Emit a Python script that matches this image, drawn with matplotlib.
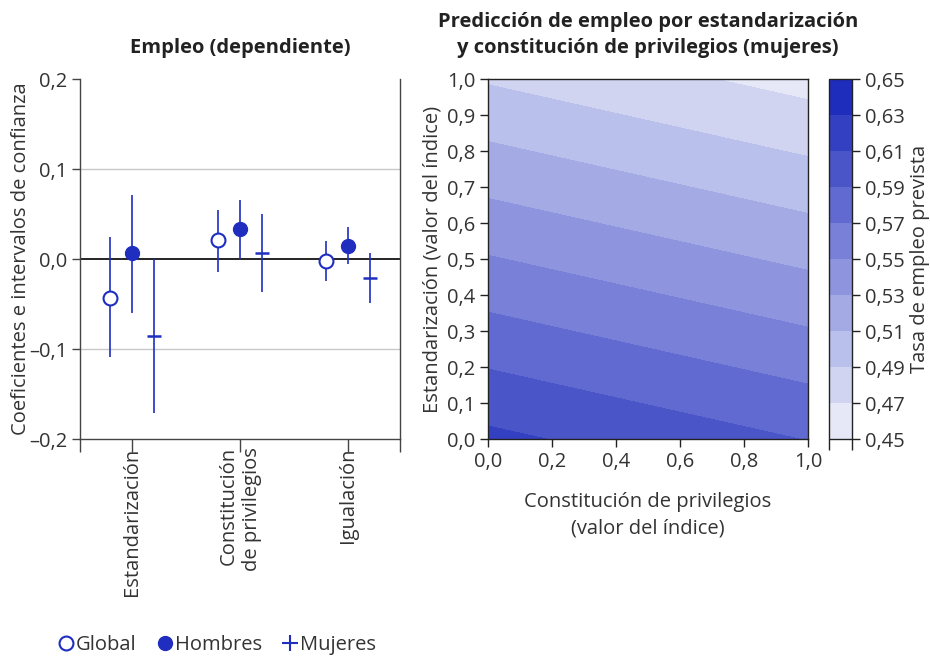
import matplotlib

matplotlib.use("Agg")
import matplotlib.pyplot as plt
import numpy as np
from matplotlib import font_manager
from matplotlib.colors import BoundaryNorm, ListedColormap
from matplotlib.lines import Line2D
from matplotlib.textpath import TextPath
from matplotlib.ticker import FuncFormatter

plt.rcParams["font.family"] = ["Open Sans", "DejaVu Sans"]
plt.rcParams["font.size"] = 14.5
plt.rcParams["text.color"] = "#333333"
plt.rcParams["axes.labelcolor"] = "#333333"
plt.rcParams["xtick.color"] = "#333333"
plt.rcParams["ytick.color"] = "#333333"

# Coefficient estimates with confidence bounds, one entry per reform type
categories = ["Estandarización", "Constitución\nde privilegios", "Igualación"]

global_est = [-0.043, 0.021, -0.002]
global_lo = [-0.109, -0.014, -0.024]
global_hi = [0.024, 0.054, 0.020]

men_est = [0.007, 0.033, 0.015]
men_lo = [-0.060, 0.000, -0.006]
men_hi = [0.071, 0.066, 0.036]

women_est = [-0.086, 0.007, -0.021]
women_lo = [-0.171, -0.037, -0.049]
women_hi = [0.000, 0.050, 0.007]

# Predicted employment rate (women) at the corners of the index grid
privilege_idx = [0.0, 1.0]
standard_idx = [0.0, 1.0]
predicted_rate = [
    [0.6146, 0.5893],  # standardisation = 0
    [0.4880, 0.4627],  # standardisation = 1
]
rate_levels = [0.45, 0.47, 0.49, 0.51, 0.53, 0.55, 0.57, 0.59, 0.61, 0.63, 0.65]

BLUE = "#1f2ebf"
band_colors = [
    "#e6e8f7", "#d0d4f0", "#bac0ec", "#a4aae4", "#8e95de",
    "#7880d8", "#616ad1", "#4a55c8", "#3340c2", "#1f2dbd",
]


def bold_font(size):
    # condensed cuts share the family name: keep the widest plain bold face
    best, best_width = None, 0.0
    for entry in font_manager.fontManager.ttflist:
        if entry.name not in ("Open Sans", "Noto Sans") or entry.style != "normal":
            continue
        if entry.weight not in (700, "bold"):
            continue
        try:
            prop = font_manager.FontProperties(fname=entry.fname)
            width = TextPath((0, 0), "Empleo", prop=prop, size=10).get_extents().width
        except Exception:
            continue
        if width > best_width:
            best, best_width = entry.fname, width
    if best is None:
        return font_manager.FontProperties(family="Open Sans", weight="bold",
                                           size=size)
    return font_manager.FontProperties(fname=best, size=size)


title_font = bold_font(14.5)


def comma(value, _pos=None, digits=1):
    text = f"{value:.{digits}f}".replace(".", ",")
    return text.replace("-", "\u2013")


fig = plt.figure(figsize=(9.3, 6.58), dpi=100)

# --- left panel: coefficients -------------------------------------------
ax = fig.add_axes([80 / 930, 1 - 439 / 658, 320 / 930, 360 / 658])
pos = np.arange(len(categories))
shift = 0.2
xmin, xmax = -0.48, 2.48

ax.axhline(0.1, color="#c8c8c8", lw=1.0, zorder=0)
ax.axhline(-0.1, color="#c8c8c8", lw=1.0, zorder=0)
ax.axhline(0.0, color="black", lw=1.2, zorder=1)


def draw_series(x, est, lo, hi, **style):
    est = np.asarray(est)
    err = [est - np.asarray(lo), np.asarray(hi) - est]
    ax.errorbar(x, est, yerr=err, fmt="none", ecolor=BLUE, elinewidth=1.2,
                capsize=0, zorder=2)
    ax.plot(x, est, linestyle="none", zorder=3, **style)


draw_series(pos - shift, global_est, global_lo, global_hi, marker="o",
            markersize=10, markerfacecolor="white", markeredgecolor=BLUE,
            markeredgewidth=1.5)
draw_series(pos, men_est, men_lo, men_hi, marker="o", markersize=10,
            markerfacecolor=BLUE, markeredgecolor=BLUE)
draw_series(pos + shift, women_est, women_lo, women_hi, marker="_",
            markersize=9.5, markeredgewidth=1.8, color=BLUE)

ax.set_xlim(xmin, xmax)
ax.set_ylim(-0.2, 0.2)
ax.set_yticks([-0.2, -0.1, 0.0, 0.1, 0.2])
ax.yaxis.set_major_formatter(FuncFormatter(comma))
ax.set_xticks([xmin, *pos, xmax])
ax.set_xticklabels(["", *categories, ""], rotation=90, va="top", ha="center",
                   multialignment="right")
ax.tick_params(axis="x", length=9, width=1.0, color="#444444", pad=-3)
ax.tick_params(axis="y", length=6, width=1.0, color="#444444", pad=3)
ax.spines["top"].set_visible(False)
for side in ("left", "right", "bottom"):
    ax.spines[side].set_color("#444444")
    ax.spines[side].set_linewidth(1.0)
ax.set_ylabel("Coeficientes e intervalos de confianza", labelpad=-1)
ax.set_title("Empleo (dependiente)", fontproperties=title_font, pad=19,
             color="#222222")

# --- right panel: prediction surface ------------------------------------
ax2 = fig.add_axes([488 / 930, 1 - 439 / 658, 320 / 930, 360 / 658])
cmap = ListedColormap(band_colors)
norm = BoundaryNorm(rate_levels, cmap.N)
cs = ax2.contourf(privilege_idx, standard_idx, predicted_rate,
                  levels=rate_levels, cmap=cmap, norm=norm)
ticks01 = [0.0, 0.1, 0.2, 0.3, 0.4, 0.5, 0.6, 0.7, 0.8, 0.9, 1.0]
ax2.set_xlim(0, 1)
ax2.set_ylim(0, 1)
ax2.set_xticks(ticks01[::2])
ax2.set_yticks(ticks01)
ax2.xaxis.set_major_formatter(FuncFormatter(comma))
ax2.yaxis.set_major_formatter(FuncFormatter(comma))
ax2.tick_params(length=6, width=1.0, color="#222222", pad=3)
for spine in ax2.spines.values():
    spine.set_color("#222222")
    spine.set_linewidth(1.0)
ax2.set_xlabel("Constitución de privilegios\n(valor del índice)", labelpad=15,
               linespacing=1.4)
ax2.set_ylabel("Estandarización (valor del índice)", labelpad=3)
ax2.set_title("Predicción de empleo por estandarización\n"
              "y constitución de privilegios (mujeres)",
              fontproperties=title_font, pad=19, color="#222222",
              linespacing=1.37)

cax = fig.add_axes([829 / 930, 1 - 439 / 658, 23 / 930, 360 / 658])
cb = fig.colorbar(cs, cax=cax, ticks=rate_levels)
cb.ax.yaxis.set_major_formatter(FuncFormatter(lambda v, p: comma(v, p, 2)))
cb.outline.set_edgecolor("#222222")
cb.outline.set_linewidth(1.0)
cax.tick_params(axis="y", length=6, width=1.0, color="#222222", pad=3)
cax.set_xticks([0, 1])
cax.set_xticklabels(["", ""])
cax.tick_params(axis="x", bottom=True, length=8, width=1.0, color="#222222")
cb.set_label("Tasa de empleo prevista", labelpad=4)

# --- legend --------------------------------------------------------------
handles = [
    Line2D([], [], linestyle="none", marker="o", markersize=10,
           markerfacecolor="white", markeredgecolor=BLUE, markeredgewidth=1.5),
    Line2D([], [], linestyle="none", marker="o", markersize=10,
           markerfacecolor=BLUE, markeredgecolor=BLUE),
    Line2D([], [], linestyle="none", marker="+", markersize=11,
           markeredgewidth=1.5, color=BLUE),
]
fig.legend(handles, ["Global", "Hombres", "Mujeres"], loc="center left",
           bbox_to_anchor=(50 / 930, 1 - 645 / 658), ncol=3, frameon=False,
           handlelength=0.8, handletextpad=0.1, columnspacing=1.0,
           borderaxespad=0)

fig.savefig("out.png", dpi=100)
